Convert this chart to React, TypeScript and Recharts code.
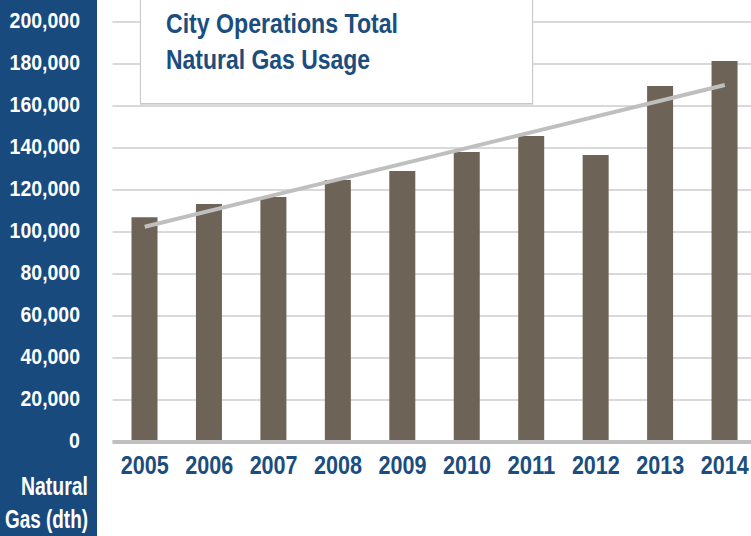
import React from "react"
import { ComposedChart, Bar, Line, XAxis, YAxis, CartesianGrid } from "recharts"

const YEARS = ["2005", "2006", "2007", "2008", "2009", "2010", "2011", "2012", "2013", "2014"]
const USAGE = [107000, 113300, 116700, 124800, 129000, 138100, 145700, 136700, 169500, 181400]
// linear trend, only its two ends are drawn
const TREND = [102500, null, null, null, null, null, null, null, null, 170000]
const Y_TICKS = [0, 20000, 40000, 60000, 80000, 100000, 120000, 140000, 160000, 180000, 200000]

// no condensed font installed, so glyphs are squeezed with textLength
const FONT = '"Liberation Sans", Arial, sans-serif'
const BLUE_PANEL = "#184a7e"
const BLUE_TEXT = "#1b4d7e"

const data = YEARS.map((year, i) => ({ year, usage: USAGE[i], trend: TREND[i] }))

function Narrow({ x, y, anchor = "start", width, size, fill, children }: any) {
  return (
    <text
      x={x} y={y} textAnchor={anchor} fill={fill} fontSize={size} fontWeight={700} fontFamily={FONT}
      textLength={width} lengthAdjust="spacingAndGlyphs"
    >
      {children}
    </text>
  )
}

function YTick({ y, payload }: any) {
  const label = Number(payload.value).toLocaleString("en-US")
  const digits = label.replace(/,/g, "").length
  const commas = label.length - digits
  return (
    <Narrow x={80} y={y + 6} anchor="end" width={digits * 10.9 + commas * 5} size={22} fill="#fff">
      {label}
    </Narrow>
  )
}

function XTick({ x, payload }: any) {
  return (
    <Narrow x={x} y={474} anchor="middle" width={48} size={26} fill={BLUE_TEXT}>
      {payload.value}
    </Narrow>
  )
}

export default function App() {
  return (
    <div style={{ position: "absolute", left: 0, top: 0, width: 751, height: 536, overflow: "hidden", background: "#fff" }}>
      <div style={{ position: "absolute", left: 0, top: 0, width: 97, height: 536, background: BLUE_PANEL }} />
      <div style={{ position: "absolute", left: 0, top: 0 }}>
        <ComposedChart width={757} height={536} data={data} margin={{ top: 22, right: 0, left: 0, bottom: 0 }}>
          <CartesianGrid vertical={false} stroke="#d9d9d9" strokeWidth={2} />
          <YAxis
            width={112.5}
            domain={[0, 200000]}
            ticks={Y_TICKS}
            axisLine={false}
            tickLine={false}
            tick={<YTick />}
            interval={0}
          />
          <XAxis
            dataKey="year"
            height={94}
            axisLine={{ stroke: "#c0c0c0", strokeWidth: 4 }}
            tickLine={false}
            tick={<XTick />}
            interval={0}
          />
          <Bar dataKey="usage" fill="#6d6457" barSize={26} isAnimationActive={false} />
          <Line
            dataKey="trend"
            stroke="#bfbfbf"
            strokeWidth={4}
            dot={false}
            connectNulls
            isAnimationActive={false}
          />
        </ComposedChart>
      </div>
      <div
        style={{
          position: "absolute", left: 140, top: -2, width: 391, height: 104,
          border: "1px solid #c8c8c8", background: "#fff", boxShadow: "0 1px 1px #ddd",
        }}
      />
      <svg style={{ position: "absolute", left: 0, top: 0 }} width={751} height={536}>
        <Narrow x={166} y={33} width={232} size={27} fill={BLUE_TEXT}>City Operations Total</Narrow>
        <Narrow x={166} y={69} width={204} size={27} fill={BLUE_TEXT}>Natural Gas Usage</Narrow>
        <Narrow x={88} y={495} anchor="end" width={67} size={25} fill="#fff">Natural</Narrow>
        <Narrow x={88} y={528} anchor="end" width={83} size={25} fill="#fff">Gas (dth)</Narrow>
      </svg>
    </div>
  )
}
